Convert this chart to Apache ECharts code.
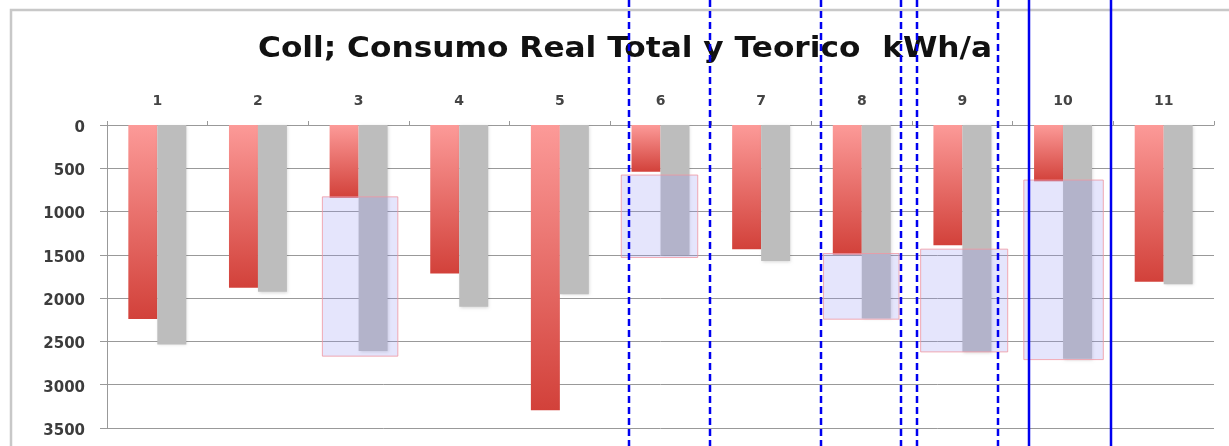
<!DOCTYPE html>
<html><head><meta charset="utf-8">
<script src="https://cdn.jsdelivr.net/npm/echarts@6/dist/echarts.min.js"></script>
<style>html,body{margin:0;padding:0;background:#fff}#c{width:1229px;height:446px}</style>
</head><body><div id="c"></div>
<script>
const categories = ['1','2','3','4','5','6','7','8','9','10','11'];
const realValues = [2240, 1880, 840, 1715, 3295, 540, 1435, 1495, 1390, 650, 1810];
const teoricoValues = [2535, 1925, 2610, 2100, 1955, 1505, 1570, 2235, 2620, 2700, 1840];
const yMin = 0, yMax = 3500, yStep = 500;
const titleText = 'Coll; Consumo Real Total y Teorico  kWh/a';
// highlighted boxes: [xFrom, xTo, yFrom, yTo] in axis units (category index 1..11, kWh/a)
const boxX0 = [2.64, 5.61, 7.62, 8.585, 9.61];
const boxX1 = [3.39, 6.37, 8.37, 9.45, 10.40];
const boxY0 = [830, 578, 1485, 1434, 636];
const boxY1 = [2670, 1530, 2243, 2621, 2710];
// vertical marker lines (in category units)
const dashedLines = [5.687, 6.489, 7.599, 8.394, 8.552, 9.35];
const solidLines = [9.661, 10.476];

const boxes = boxX0.map((x, i) => [x, boxX1[i], boxY0[i], boxY1[i]]);

const chart = echarts.init(document.getElementById('c'), null, {renderer: 'canvas'});
const FONT = 'DejaVu Sans';
chart.setOption({
  animation: false,
  backgroundColor: '#fff',
  graphic: [{
    type: 'rect', silent: true, z: -1,
    shape: {x: 11, y: 10, width: 1260, height: 480},
    style: {fill: 'none', stroke: '#c8c8c8', lineWidth: 2.5}
  }, {
    type: 'text', silent: true, z: 1,
    x: 625, y: 63.5, scaleX: 1.115, scaleY: 1,
    style: {
      text: titleText, fill: '#111', textAlign: 'center', textVerticalAlign: 'bottom',
      font: 'bold 28px "DejaVu Sans"'
    }
  }],
  grid: {left: 107, right: 15, top: 125, bottom: 18, containLabel: false},
  xAxis: [{
    type: 'category', data: categories, position: 'top',
    axisLine: {show: true, lineStyle: {color: '#999', width: 1}},
    axisTick: {show: true, inside: false, length: 4, alignWithLabel: false, lineStyle: {color: '#999'}},
    axisLabel: {margin: 17, fontFamily: FONT, fontSize: 14, fontWeight: 'bold', color: '#444'},
    splitLine: {show: false}
  }, {
    type: 'value', min: 0.5, max: 11.5, show: false
  }],
  yAxis: {
    type: 'value', inverse: true, min: yMin, max: yMax, interval: yStep,
    axisLine: {show: true, lineStyle: {color: '#999', width: 1}},
    axisTick: {show: true, length: 7, lineStyle: {color: '#999'}},
    axisLabel: {margin: 22, fontFamily: FONT, fontSize: 15, fontWeight: 'bold', color: '#3c3c3c',
      verticalAlign: 'top', lineHeight: 6, formatter: v => String(v)},
    splitLine: {show: true, lineStyle: {color: '#999', width: 1}}
  },
  series: [{
    name: 'Real', type: 'bar', data: realValues, barWidth: '28.8%', barGap: '0%',
    itemStyle: {
      color: new echarts.graphic.LinearGradient(0, 0, 0, 1, [
        {offset: 0, color: '#fc9a98'}, {offset: 1, color: '#d2413a'}
      ])
    }, z: 2
  }, {
    name: 'Teorico', type: 'bar', data: teoricoValues, barWidth: '28.8%', barGap: '0%',
    itemStyle: {color: '#bdbdbd', shadowColor: 'rgba(0,0,0,0.15)', shadowBlur: 3, shadowOffsetX: 1, shadowOffsetY: 1}, z: 2
  }, {
    type: 'custom', xAxisIndex: 1, data: boxes, z: 5, silent: true,
    renderItem: function (params, api) {
      const p0 = api.coord([api.value(0), api.value(2)]);
      const p1 = api.coord([api.value(1), api.value(3)]);
      return {
        type: 'rect',
        shape: {x: p0[0], y: p0[1], width: p1[0] - p0[0], height: p1[1] - p0[1]},
        style: {fill: 'rgba(150,150,245,0.25)', stroke: 'rgba(240,150,160,0.8)', lineWidth: 1}
      };
    }
  }, {
    type: 'custom', xAxisIndex: 1, data: dashedLines.map(v => [v, 0]), z: 10, clip: false, silent: true,
    renderItem: function (params, api) {
      const x = Math.round(api.coord([api.value(0), 0])[0]);
      return {
        type: 'line',
        shape: {x1: x, y1: 0, x2: x, y2: api.getHeight()},
        style: {stroke: '#0000f0', lineWidth: 2.5, lineDash: [7, 4]}
      };
    }
  }, {
    type: 'custom', xAxisIndex: 1, data: solidLines.map(v => [v, 0]), z: 10, clip: false, silent: true,
    renderItem: function (params, api) {
      const x = Math.round(api.coord([api.value(0), 0])[0]);
      return {
        type: 'line',
        shape: {x1: x, y1: 0, x2: x, y2: api.getHeight()},
        style: {stroke: '#0000f0', lineWidth: 2.5}
      };
    }
  }]
});
</script></body></html>
